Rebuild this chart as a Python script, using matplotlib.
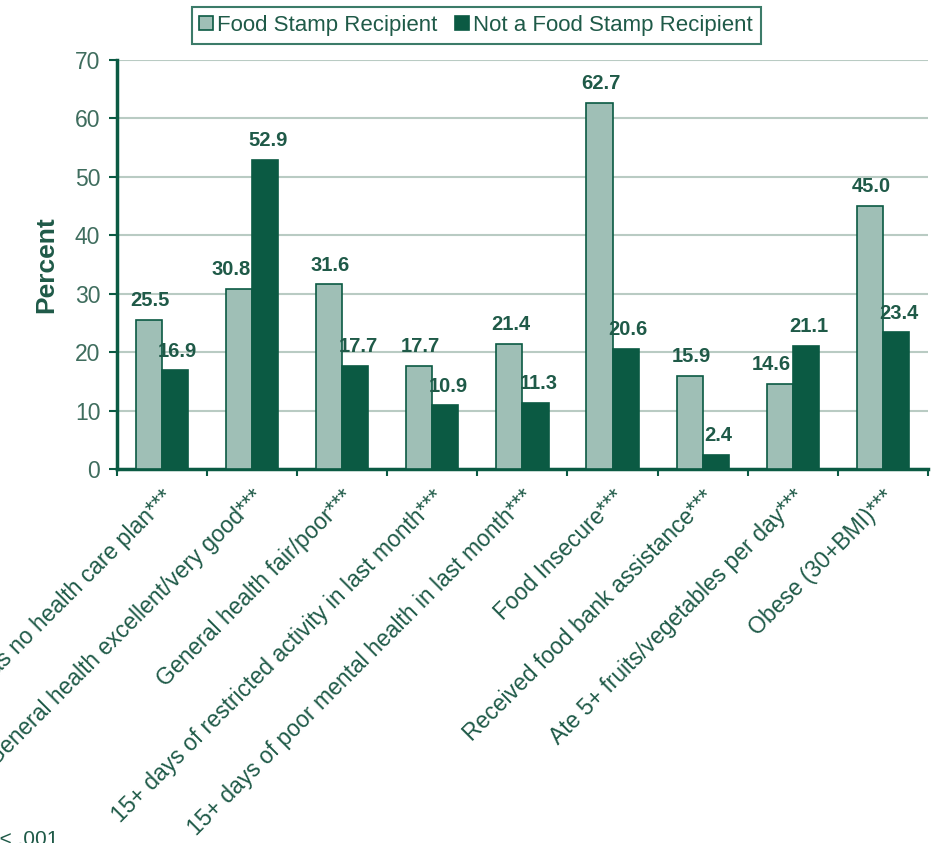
import matplotlib.pyplot as plt
import numpy as np

plt.rcParams['font.family'] = ['Liberation Sans', 'DejaVu Sans']

# Data
categories = [
    'Has no health care plan***',
    'General health excellent/very good***',
    'General health fair/poor***',
    '15+ days of restricted activity in last month***',
    '15+ days of poor mental health in last month***',
    'Food Insecure***',
    'Received food bank assistance***',
    'Ate 5+ fruits/vegetables per day***',
    'Obese (30+BMI)***',
]
recipient = [25.5, 30.8, 31.6, 17.7, 21.4, 62.7, 15.9, 14.6, 45.0]
not_recipient = [16.9, 52.9, 17.7, 10.9, 11.3, 20.6, 2.4, 21.1, 23.4]
yticks = [0, 10, 20, 30, 40, 50, 60, 70]

dark = '#0b5a43'
light = '#9fbfb6'
text_col = '#1f5a48'
tick_col = '#3f6d5e'
grid_col = '#b9cbc3'

fig = plt.figure(figsize=(9.43, 8.43), dpi=100)
ax = fig.add_axes([0.124, 0.4436, 0.86, 0.4852])

x = np.arange(len(categories))
w = 0.29
b1 = ax.bar(x - w / 2, recipient, w, color=light, edgecolor=dark, linewidth=1.2,
            label='Food Stamp Recipient', zorder=3)
b2 = ax.bar(x + w / 2, not_recipient, w, color=dark, edgecolor=dark, linewidth=1.2,
            label='Not a Food Stamp Recipient', zorder=3)

# value labels
for i in range(len(categories)):
    if not_recipient[i] > recipient[i] + 3:
        ax.annotate(f'{recipient[i]:.1f}', (x[i], recipient[i]), xytext=(-1, 7),
                    textcoords='offset points', ha='right', va='bottom',
                    fontsize=14.5, fontweight='bold', color=text_col, zorder=4)
    else:
        ax.annotate(f'{recipient[i]:.1f}', (x[i] - w / 2, recipient[i]), xytext=(1, 7),
                    textcoords='offset points', ha='center', va='bottom',
                    fontsize=14.5, fontweight='bold', color=text_col, zorder=4)
    ax.annotate(f'{not_recipient[i]:.1f}', (x[i] + w / 2, not_recipient[i]), xytext=(2, 7),
                textcoords='offset points', ha='center', va='bottom',
                fontsize=14.5, fontweight='bold', color=text_col, zorder=4)

ax.set_xlim(-0.5, len(categories) - 0.5)
ax.set_ylim(0, 70)
ax.set_yticks(yticks)
ax.yaxis.grid(True, color=grid_col, linewidth=1.5, zorder=0)
ax.set_axisbelow(True)

# major ticks on boundaries, labels on centers
ax.set_xticks(np.arange(len(categories) + 1) - 0.5)
ax.set_xticklabels([])
ax.set_xticks(x, minor=True)
ax.set_xticklabels(categories, minor=True, rotation=45, ha='right',
                   rotation_mode='anchor', fontsize=16.5, color=text_col)
ax.tick_params(axis='x', which='minor', length=0, pad=12)
ax.tick_params(axis='x', which='major', length=5, width=1.5, color=dark, direction='out')
ax.tick_params(axis='y', length=6, width=1.5, color=dark, labelsize=16.5,
               labelcolor=tick_col, pad=6)

for s in ['top', 'right']:
    ax.spines[s].set_visible(False)
for s in ['left', 'bottom']:
    ax.spines[s].set_color(dark)
    ax.spines[s].set_linewidth(2.5)

ax.set_ylabel('Percent', fontsize=19, fontweight='bold', color=text_col, labelpad=12)

leg = fig.legend(handles=[b1, b2], loc='center', bbox_to_anchor=(0.505, 0.970),
                 ncol=2, fontsize=16, frameon=True, fancybox=False,
                 handlelength=0.6, handleheight=0.6, handletextpad=0.2,
                 columnspacing=0.8, borderpad=0.35, labelcolor=text_col)
leg.get_frame().set_edgecolor(dark)
leg.get_frame().set_linewidth(1.5)

fig.text(58 / 943, 0.016, '***p < .001', ha='right', va='top', fontsize=15, color=text_col)

fig.savefig('out.png', dpi=100)
